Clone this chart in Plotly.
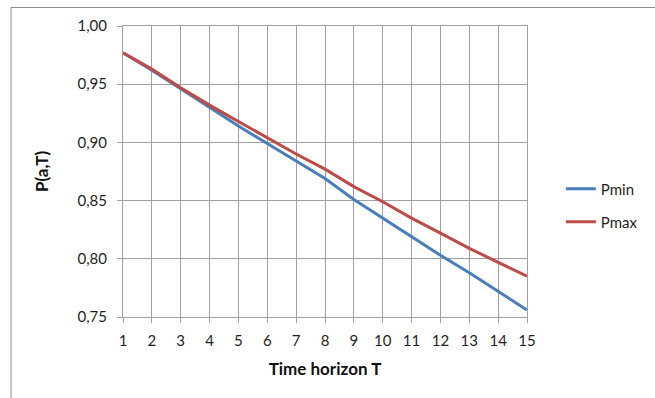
import plotly.graph_objects as go

T = list(range(1, 16))
p_min = [0.977, 0.962, 0.946, 0.930, 0.914, 0.899, 0.884, 0.869, 0.851, 0.835, 0.819, 0.803, 0.788, 0.772, 0.756]
p_max = [0.977, 0.963, 0.947, 0.932, 0.918, 0.904, 0.890, 0.877, 0.862, 0.849, 0.835, 0.822, 0.809, 0.797, 0.785]
y_ticks = [0.75, 0.80, 0.85, 0.90, 0.95, 1.00]

BLUE = "#4A7EBB"
RED = "#BE4B48"
GRID = "#a0a0a0"
FONT = "Lato, Carlito, Calibri, sans-serif"
TXT = "#1f1f1f"

fig = go.Figure()
fig.add_trace(go.Scatter(x=T, y=p_min, mode="lines", name="Pmin",
                         line=dict(color=BLUE, width=3), legend="legend"))
fig.add_trace(go.Scatter(x=T, y=p_max, mode="lines", name="Pmax",
                         line=dict(color=RED, width=3), legend="legend2"))

W, H = 655, 398
L, R, TOP, B = 123, 126, 26, 81
pw, ph = W - L - R, H - TOP - B

def px_to_paper_x(x):
    return (x - L) / pw

def px_to_paper_y(y):
    return (H - B - y) / ph

fig.update_layout(
    width=W, height=H,
    margin=dict(l=L, r=R, t=TOP, b=B),
    paper_bgcolor="white", plot_bgcolor="white",
    separators=", ",
    font=dict(family=FONT, size=15, color=TXT),
    showlegend=True,
    legend=dict(x=px_to_paper_x(563), y=px_to_paper_y(189), xanchor="left", yanchor="middle",
                font=dict(size=15, color=TXT), bgcolor="rgba(0,0,0,0)"),
    legend2=dict(x=px_to_paper_x(563), y=px_to_paper_y(222), xanchor="left", yanchor="middle",
                 font=dict(size=15, color=TXT), bgcolor="rgba(0,0,0,0)"),
    xaxis=dict(range=[1, 15], tickvals=T, ticktext=[str(t) for t in T],
               showgrid=True, gridcolor=GRID, gridwidth=1,
               showline=True, linecolor=GRID, linewidth=1, mirror=True,
               ticks="outside", ticklen=5, tickcolor=GRID,
               tickfont=dict(size=15, color=TXT), ticklabelstandoff=5,
               title=dict(text="<b>Time horizon T</b>", font=dict(size=17, color="#111"), standoff=15),
               zeroline=False, fixedrange=True),
    yaxis=dict(range=[0.75, 1.0], tickvals=y_ticks, tickformat=".2f",
               showgrid=True, gridcolor=GRID, gridwidth=1,
               showline=True, linecolor=GRID, linewidth=1, mirror=True,
               ticks="outside", ticklen=5, tickcolor=GRID,
               tickfont=dict(size=15, color=TXT), ticklabelstandoff=7,
               title=dict(text="<b>P(a,T)</b>", font=dict(size=17, color="#111"), standoff=24),
               zeroline=False, fixedrange=True),
    shapes=[
        dict(type="line", xref="paper", yref="paper",
             x0=px_to_paper_x(10.5), x1=px_to_paper_x(10.5),
             y0=px_to_paper_y(7.5), y1=px_to_paper_y(420),
             line=dict(color="#8c8c8c", width=1), layer="below"),
        dict(type="line", xref="paper", yref="paper",
             x0=px_to_paper_x(10.5), x1=px_to_paper_x(700),
             y0=px_to_paper_y(7.5), y1=px_to_paper_y(7.5),
             line=dict(color="#8c8c8c", width=1), layer="below"),
    ],
)

fig.write_html("out.html", config={"displayModeBar": False})
